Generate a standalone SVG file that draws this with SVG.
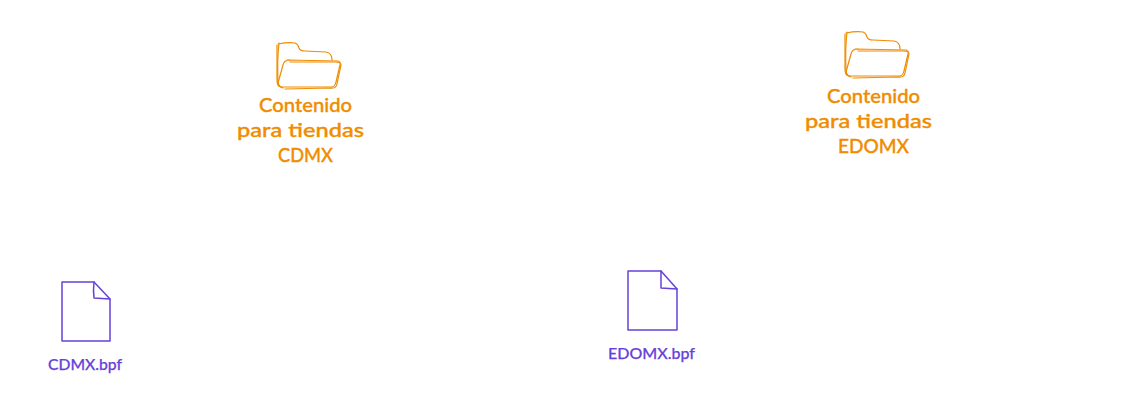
<svg xmlns="http://www.w3.org/2000/svg" width="1129" height="414" viewBox="0 0 1129 414">
<style>
.o{fill:#f08c00;stroke:#f08c00;stroke-width:.35;font-family:"Lato","Open Sans",sans-serif;font-size:20px;font-weight:500}
.p{fill:#6741d9;stroke:#6741d9;stroke-width:.25;font-family:"Lato","Open Sans",sans-serif;font-size:16px;font-weight:500}
.fo{fill:none;stroke:#f08c00;stroke-width:1.2;stroke-linecap:round;stroke-linejoin:round}
.fi{fill:none;stroke:#6741d9;stroke-width:1.5;stroke-linecap:round;stroke-linejoin:round}
</style>
<defs>
<g id="folder-a" class="fo">
<path d="M278 44Q288 42 295 43Q298 44 299 48Q300 51 305 51L326 52Q332 53 332 60"/>
<path d="M277 45L277 80Q277 86 281 87"/>
<path d="M279 43Q277 60 278 82Q279 87 283 88"/>
<path d="M287 60L338 61Q341 62 340 65L336 82Q335 87 331 87L283 87Q277 87 278 83L283 65Q284 60 290 60"/>
<path d="M290 62L335 62Q341 62 341 65L337 84Q336 89 330 88L285 89"/>
</g>
</defs>
<g id="connectors"></g>
<g id="node-folder-cdmx">
<use href="#folder-a"/>
</g>
<g id="node-label-cdmx">
<text class="o" x="259" y="112" textLength="93" lengthAdjust="spacingAndGlyphs">Contenido</text>
<text class="o" x="237" y="137" textLength="127" lengthAdjust="spacingAndGlyphs">para tiendas</text>
<text class="o" x="278" y="162" textLength="55" lengthAdjust="spacingAndGlyphs">CDMX</text>
</g>
<g id="node-folder-edomx" transform="translate(568 -11)">
<use href="#folder-a"/>
</g>
<g id="node-label-edomx">
<text class="o" x="827" y="103" textLength="93" lengthAdjust="spacingAndGlyphs">Contenido</text>
<text class="o" x="805" y="128" textLength="127" lengthAdjust="spacingAndGlyphs">para tiendas</text>
<text class="o" x="838" y="153" textLength="71" lengthAdjust="spacingAndGlyphs">EDOMX</text>
</g>
<g id="node-file-cdmx">
<path class="fi" d="M62 282L94 282L110 299L110 341L62 341Z"/>
<path class="fi" d="M94 282Q93 291 94 298L110 299"/>
<text class="p" x="48" y="370" textLength="74" lengthAdjust="spacingAndGlyphs">CDMX.bpf</text>
</g>
<g id="node-file-edomx">
<path class="fi" d="M628 271L661 271L677 289L677 330L628 330Z"/>
<path class="fi" d="M661 271L661 288L677 289"/>
<text class="p" x="608" y="359" textLength="87" lengthAdjust="spacingAndGlyphs">EDOMX.bpf</text>
</g>
</svg>
